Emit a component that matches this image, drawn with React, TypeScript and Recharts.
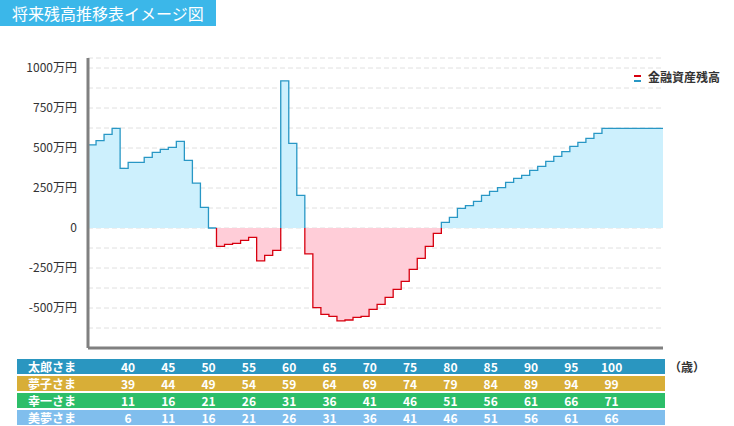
import { AreaChart, Area, XAxis, YAxis, CartesianGrid } from "recharts";

// 金融資産残高（万円）, one value per year
const balance = [
  520, 546, 585, 623, 373, 410, 410, 442, 473, 492, 504, 542, 423, 281, 129, 0,
  -115, -102, -96, -77, -58, -206, -171, -140,
  919, 529, 204,
  -162, -498, -540, -552, -581, -575, -558, -552, -508, -477, -433, -383, -333,
  -258, -190, -115, -33,
  35, 67, 123, 140, 167, 204, 229, 252, 285, 310, 329, 360, 385, 417, 448, 477,
  510, 535, 560, 592, 623, 623, 623, 623, 623, 623, 623, 623,
];

const yTicks = [-625, -500, -375, -250, -125, 0, 125, 250, 375, 500, 625, 750, 875, 1000];

const people = ["太郎さま", "夢子さま", "幸一さま", "美夢さま"];
const taroAges = [40, 45, 50, 55, 60, 65, 70, 75, 80, 85, 90, 95, 100];
const yumekoAges = [39, 44, 49, 54, 59, 64, 69, 74, 79, 84, 89, 94, 99];
const koichiAges = [11, 16, 21, 26, 31, 36, 41, 46, 51, 56, 61, 66, 71];
const miyumeAges = [6, 11, 16, 21, 26, 31, 36, 41, 46, 51, 56, 61, 66];
const ageRows = [taroAges, yumekoAges, koichiAges, miyumeAges];
const rowColors = ["#2a96c0", "#d8ae37", "#2cbe69", "#80beed"];

const FONT = '"Noto Sans CJK JP", "Noto Sans", sans-serif';

// split into a positive and a negative series, with a shared zero point at sign changes
function buildRows() {
  const rows: { x: number; pos: number | null; neg: number | null }[] = [];
  balance.forEach((v, i) => {
    if (i > 0 && (v >= 0) !== (balance[i - 1] >= 0)) {
      rows.push({ x: i, pos: 0, neg: 0 });
    }
    rows.push({ x: i, pos: v >= 0 ? v : null, neg: v < 0 ? v : null });
  });
  const last = balance[balance.length - 1];
  rows.push({ x: balance.length, pos: last >= 0 ? last : null, neg: last < 0 ? last : null });
  return rows;
}

const fmtY = (v: number) => {
  if (v % 250 !== 0) return "";
  return v === 0 ? "0" : `${v}万円`;
};

export default function App() {
  const data = buildRows();

  return (
    <div style={{ position: "absolute", left: 0, top: 0, width: 734, height: 426, background: "#fff", fontFamily: FONT }}>
      <div
        style={{
          position: "absolute", left: 0, top: 0, width: 216, height: 26,
          background: "#3bb7e9", color: "#fff", fontSize: 16, lineHeight: "26px",
          paddingLeft: 12, boxSizing: "border-box", whiteSpace: "nowrap",
        }}
      >
        将来残高推移表イメージ図
      </div>

      <div style={{ position: "absolute", left: 0, top: 0 }}>
        <AreaChart width={734} height={350} data={data} margin={{ top: 58, right: 71, bottom: 0, left: 0 }}>
          <CartesianGrid vertical={false} stroke="#e0e0e0" strokeDasharray="5 3" />
          <XAxis
            type="number"
            dataKey="x"
            domain={[0, 71.6]}
            allowDataOverflow
            tick={false}
            tickLine={false}
            height={2}
            axisLine={{ stroke: "#808080", strokeWidth: 3 }}
          />
          <YAxis
            type="number"
            domain={[-750, 1062.5]}
            ticks={yTicks}
            tickFormatter={fmtY}
            width={88}
            tickLine={false}
            tickMargin={5}
            axisLine={{ stroke: "#808080", strokeWidth: 3 }}
            tick={{ fontSize: 12, fill: "#333", fontFamily: FONT }}
            interval={0}
          />
          <Area
            type="stepAfter"
            dataKey="pos"
            baseValue={0}
            stroke="#2897c5"
            strokeWidth={1.3}
            fill="#cdf0fd"
            fillOpacity={1}
            isAnimationActive={false}
            dot={false}
            activeDot={false}
          />
          <Area
            type="stepAfter"
            dataKey="neg"
            baseValue={0}
            stroke="#d7000f"
            strokeWidth={1.3}
            fill="#ffcdd8"
            fillOpacity={1}
            isAnimationActive={false}
            dot={false}
            activeDot={false}
          />
        </AreaChart>
      </div>

      <div style={{ position: "absolute", left: 634, top: 70, width: 100, height: 14 }}>
        <div style={{ position: "absolute", left: 0, top: 5, width: 7, height: 1.5, background: "#d7000f" }} />
        <div style={{ position: "absolute", left: 0, top: 10, width: 7, height: 1.5, background: "#2897c5" }} />
        <span style={{ position: "absolute", left: 14, top: -1, fontSize: 12, fontWeight: 700, color: "#333", whiteSpace: "nowrap", lineHeight: "16px" }}>
          金融資産残高
        </span>
      </div>

      {ageRows.map((ages, r) => (
        <div
          key={r}
          style={{
            position: "absolute", left: 17, top: 359 + r * 17, width: 648, height: 15,
            background: rowColors[r], color: "#fff", fontSize: 12, fontWeight: 700, lineHeight: "15px",
          }}
        >
          <span style={{ position: "absolute", left: 11, top: 0 }}>{people[r]}</span>
          {ages.map((a, j) => (
            <span key={j} style={{ position: "absolute", left: 111 + j * 40.3 - 20, width: 40, textAlign: "center", top: 0 }}>
              {a}
            </span>
          ))}
        </div>
      ))}
      <div style={{ position: "absolute", left: 669, top: 359, fontSize: 12, fontWeight: 700, color: "#333", lineHeight: "15px" }}>
        （歳）
      </div>
    </div>
  );
}
